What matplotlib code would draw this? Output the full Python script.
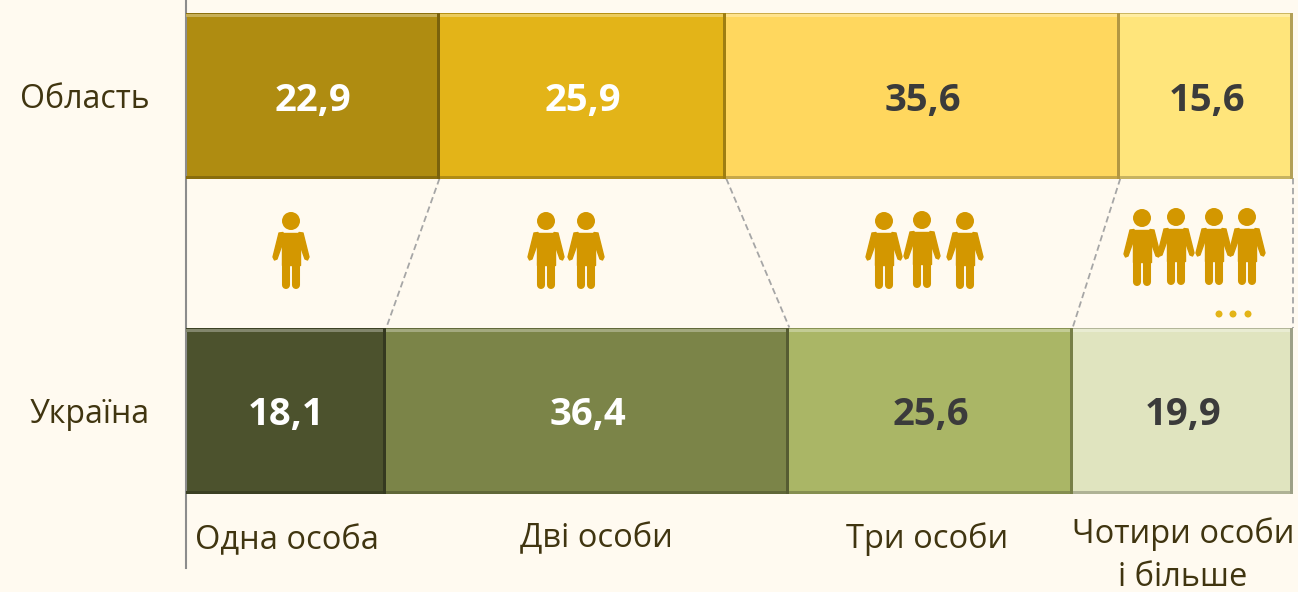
import matplotlib
matplotlib.use("Agg")
import matplotlib.pyplot as plt
from matplotlib.patches import Circle, Polygon, Rectangle
import numpy as np

plt.rcParams['font.family'] = ['Open Sans', 'DejaVu Sans']

W, H = 1298, 592
BG = '#FFFAF0'

regions = ['Україна', 'Область']
oblast_values = [22.9, 25.9, 35.6, 15.6]
ukraine_values = [18.1, 36.4, 25.6, 19.9]
oblast_labels = ['22,9', '25,9', '35,6', '15,6']
ukraine_labels = ['18,1', '36,4', '25,6', '19,9']
oblast_colors = ['#AF8C11', '#E3B418', '#FFD75E', '#FFE57B']
ukraine_colors = ['#4C522D', '#7B8448', '#AAB666', '#E0E4BF']
oblast_text = ['white', 'white', '#3B3B3B', '#3B3B3B']
ukraine_text = ['white', 'white', '#3B3B3B', '#3B3B3B']

# підписи категорій: текст, x, y у пікселях
category_labels = [
    ('Одна особа', 287, 541),
    ('Дві особи', 596, 539),
    ('Три особи', 927, 539),
    ('Чотири особи', 1183, 534),
    ('і більше', 1183, 578),
]
# центри голів людей у пікселях
people_heads = [
    (291, 221),
    (546, 221), (586, 221),
    (884, 221), (922, 220), (965, 221),
    (1142, 218), (1176, 217), (1214, 217), (1247, 217),
]
dots_x = [1219, 1233, 1248]
dots_y = 314

BAR_H = 166 / 315
PX_X = 100 / 1107
PX_Y = 1 / 315


def shade(color, factor):
    rgb = np.array(matplotlib.colors.to_rgb(color))
    if factor < 1:
        return tuple(rgb * factor)
    return tuple(rgb + (1 - rgb) * (factor - 1))


def draw_row(ax, y, values, colors, labels, text_colors):
    left = 0
    for val, col, lab, tcol in zip(values, colors, labels, text_colors):
        ax.barh(y, val, left=left, height=BAR_H, color=col, linewidth=0, zorder=2)
        top = y + BAR_H / 2
        bot = y - BAR_H / 2
        # фаска: світла зверху, темна знизу і справа
        ax.add_patch(Rectangle((left, top - 4 * PX_Y), val, 4 * PX_Y,
                               color=shade(col, 1.3), lw=0, zorder=3))
        ax.add_patch(Rectangle((left, top - 1.2 * PX_Y), val, 1.2 * PX_Y,
                               color=shade(col, 0.8), lw=0, zorder=3))
        ax.add_patch(Rectangle((left, bot), val, 3 * PX_Y,
                               color=shade(col, 0.78), lw=0, zorder=3))
        ax.add_patch(Rectangle((left + val - 3 * PX_X, bot), 3 * PX_X, BAR_H,
                               color=shade(col, 0.7), lw=0, zorder=3))
        ax.text(left + val / 2, y - 5 * PX_Y, lab, ha='center', va='center', color=tcol,
                fontsize=27.5, fontweight='bold', zorder=4)
        left += val


def draw_person(ax, cx, cy, color='#D39700'):
    ax.add_patch(Circle((cx, cy), 9, color=color, lw=0, zorder=5))
    torso = [(-9, 12), (9, 12), (9, 44), (-9, 44)]
    ax.add_patch(Polygon([(cx + a, cy + b) for a, b in torso], closed=True,
                         facecolor=color, edgecolor=color, lw=1, joinstyle='round', zorder=5))
    for sign in (-1, 1):
        arm = [(8, 11.5), (12, 12), (18, 36), (16.5, 39), (14, 38), (9, 24)]
        ax.add_patch(Polygon([(cx + sign * a, cy + b) for a, b in arm], closed=True,
                             facecolor=color, edgecolor=color, lw=1, joinstyle='round', zorder=5))
        ax.plot([cx + sign * 5, cx + sign * 5], [cy + 42, cy + 64], color=color,
                lw=5.8, solid_capstyle='round', zorder=5)


fig = plt.figure(figsize=(W / 100, H / 100), dpi=100, facecolor=BG)
ax = fig.add_axes([186 / W, (H - 568) / H, 1107 / W, 568 / H])
ax.set_facecolor(BG)
ax.set_xlim(0, 100)
ax.set_ylim(-0.5, 1 + 95.5 / 315)

draw_row(ax, 1, oblast_values, oblast_colors, oblast_labels, oblast_text)
draw_row(ax, 0, ukraine_values, ukraine_colors, ukraine_labels, ukraine_text)

# лінії-зв'язки між рядами
for a, b in zip(np.cumsum(oblast_values), np.cumsum(ukraine_values)):
    ax.plot([a, b], [1 - BAR_H / 2, BAR_H / 2], color='#A6A6A6', lw=1.3,
            dashes=(3.5, 2), zorder=1, clip_on=False)

ax.set_yticks([0, 1])
ax.set_yticklabels(regions, fontsize=23, color='#403510')
ax.tick_params(axis='y', length=0, pad=26)
ax.set_xticks([])
for side in ['top', 'right', 'bottom']:
    ax.spines[side].set_visible(False)
ax.spines['left'].set_color('#8C8C8C')
ax.spines['left'].set_linewidth(1.5)

# шар у пікселях для значків і підписів
over = fig.add_axes([0, 0, 1, 1])
over.set_xlim(0, W)
over.set_ylim(H, 0)
over.axis('off')
over.patch.set_alpha(0)

for cx, cy in people_heads:
    draw_person(over, cx, cy)
for x in dots_x:
    over.add_patch(Circle((x, dots_y), 3.5, color='#E3B418', lw=0, zorder=5))
for text, x, y in category_labels:
    over.text(x, y, text, ha='center', va='center', fontsize=23.5, color='#403510')

fig.savefig('out.png', dpi=100, facecolor=BG)
